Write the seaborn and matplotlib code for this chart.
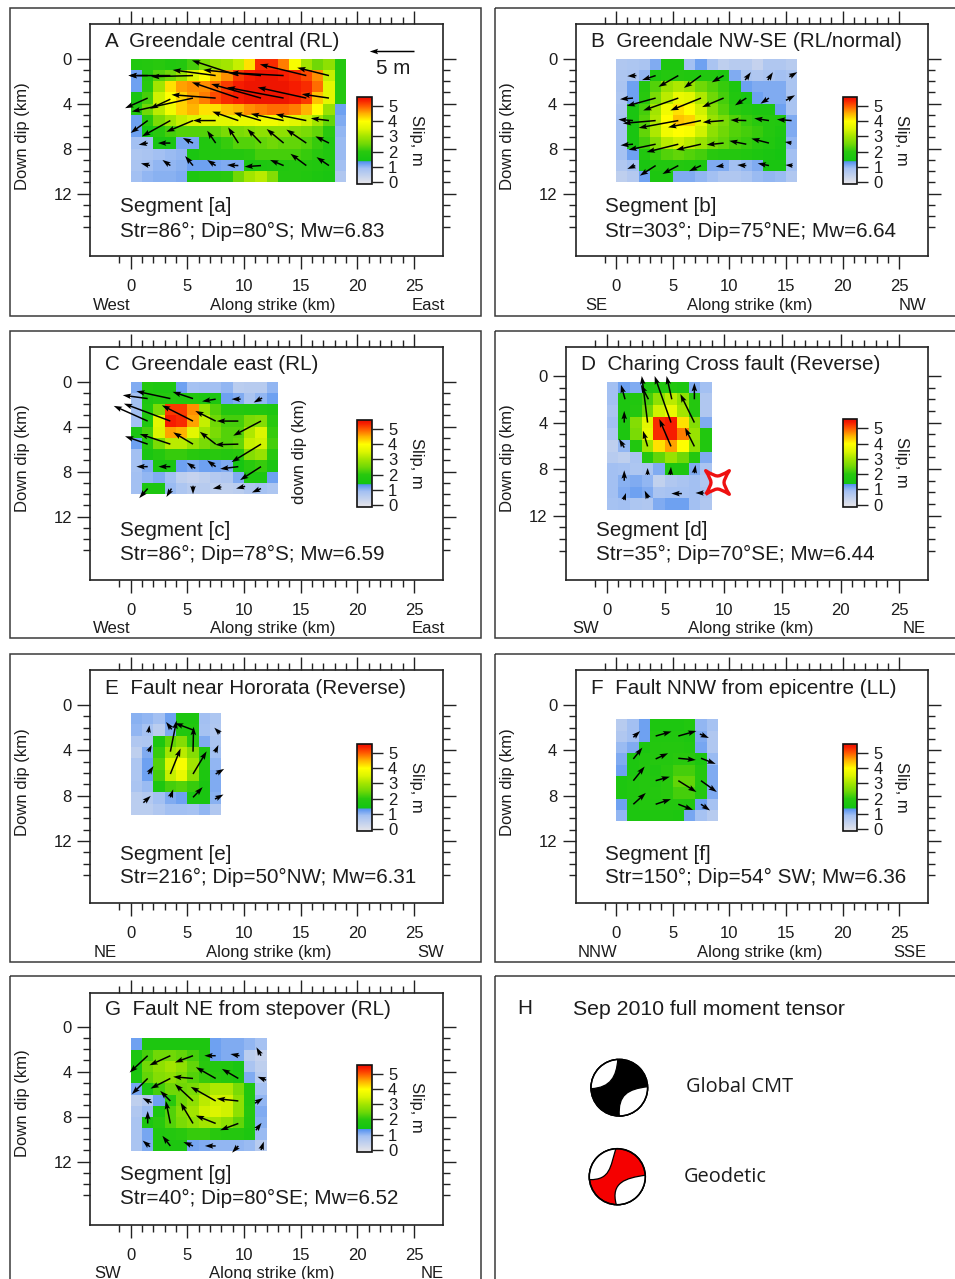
import numpy as np
import pandas as pd
import matplotlib
matplotlib.use("Agg")
import matplotlib.pyplot as plt
import seaborn as sns
from matplotlib.colors import LinearSegmentedColormap
from matplotlib.patches import Rectangle, PathPatch, Circle
from matplotlib.path import Path
from matplotlib.transforms import Affine2D

# Slip per 1 km x 1 km patch (metres)
slip_a = [
    [1.8, 1.9, 2.0, 1.8, 1.9, 2.2, 2.6, 2.9, 3.0, 3.3, 4.2, 5.3, 5.3, 4.8, 3.9, 3.0, 2.5, 2.8, 1.9],
    [1.2, 1.9, 2.3, 2.5, 2.9, 3.5, 4.0, 4.4, 4.7, 5.2, 5.4, 5.5, 5.5, 5.4, 5.3, 5.1, 4.7, 3.3, 1.9],
    [1.2, 2.0, 3.0, 4.2, 4.6, 4.7, 4.7, 4.9, 5.2, 5.4, 5.5, 5.5, 5.5, 5.5, 5.4, 5.3, 4.9, 3.6, 1.9],
    [1.6, 2.2, 3.4, 4.0, 4.3, 4.6, 4.8, 5.1, 5.3, 5.4, 5.5, 5.5, 5.5, 5.5, 5.4, 5.2, 4.4, 3.6, 1.9],
    [1.8, 2.5, 3.2, 3.8, 4.3, 4.5, 4.2, 4.2, 4.4, 4.5, 4.7, 4.8, 4.9, 4.9, 4.8, 4.5, 4.0, 2.9, 1.2],
    [1.2, 2.0, 2.6, 3.0, 3.3, 3.5, 3.6, 3.6, 3.6, 3.7, 3.7, 3.8, 3.8, 3.7, 3.6, 3.4, 3.0, 2.4, 1.1],
    [1.2, 1.5, 2.0, 2.2, 2.3, 2.3, 2.3, 2.4, 2.6, 2.6, 2.7, 2.8, 2.8, 2.8, 2.7, 2.6, 2.4, 2.0, 1.0],
    [0.9, 0.9, 1.6, 1.6, 1.15, 1.15, 1.8, 1.9, 2.1, 2.3, 2.3, 2.4, 2.5, 2.4, 2.4, 2.3, 2.1, 1.8, 0.95],
    [0.75, 0.8, 0.9, 0.95, 1.0, 1.6, 1.8, 1.85, 1.9, 1.9, 2.0, 2.2, 2.2, 2.2, 2.2, 2.1, 2.0, 1.8, 0.95],
    [0.8, 0.9, 1.0, 1.0, 1.05, 1.2, 1.2, 1.15, 1.1, 1.1, 1.6, 1.7, 1.75, 1.8, 1.9, 1.9, 1.8, 1.7, 0.9],
    [0.9, 1.0, 1.05, 1.05, 1.1, 1.7, 1.8, 1.9, 2.0, 2.5, 3.0, 3.2, 2.7, 1.9, 1.9, 1.8, 1.7, 1.6, 0.7],
]
slip_b = [
    [0.7, 0.75, 0.8, 1.1, 1.7, 1.7, 0.9, 1.2, 0.8, 0.5, 0.6, 0.6, 0.4, 0.7, 0.7, 0.6],
    [0.75, 0.8, 1.0, 1.7, 1.9, 1.9, 1.8, 1.8, 1.8, 1.7, 1.1, 0.8, 0.7, 0.8, 0.9, 0.8],
    [0.8, 1.2, 1.9, 2.3, 2.9, 3.1, 2.9, 2.5, 2.3, 2.1, 1.7, 1.2, 1.1, 1.1, 1.1, 0.8],
    [0.75, 1.2, 2.0, 2.6, 3.2, 3.7, 3.6, 3.1, 2.5, 2.2, 1.8, 1.6, 1.2, 1.1, 1.1, 0.8],
    [0.8, 1.6, 2.2, 3.0, 3.8, 4.2, 4.0, 3.4, 2.7, 2.3, 2.0, 1.8, 1.7, 1.7, 1.2, 0.8],
    [0.85, 1.6, 2.3, 3.1, 4.0, 4.4, 4.3, 3.6, 2.9, 2.6, 2.3, 2.1, 2.0, 1.9, 1.8, 1.1],
    [0.85, 1.6, 2.4, 3.1, 3.8, 4.0, 3.9, 3.4, 2.8, 2.5, 2.3, 2.2, 2.1, 1.9, 1.7, 1.1],
    [0.85, 1.6, 2.2, 2.7, 3.2, 3.4, 3.2, 2.9, 2.6, 2.4, 2.2, 2.1, 2.0, 1.8, 1.6, 1.0],
    [0.85, 1.2, 1.8, 2.1, 2.3, 2.4, 2.3, 2.2, 2.0, 1.9, 1.9, 1.8, 1.7, 1.6, 1.5, 0.9],
    [0.7, 0.9, 1.6, 1.8, 1.8, 1.9, 1.8, 1.7, 1.1, 1.1, 0.9, 1.0, 1.1, 1.6, 1.6, 0.9],
    [0.5, 0.65, 1.2, 1.7, 1.7, 1.1, 1.1, 1.0, 0.9, 0.7, 0.7, 0.8, 0.95, 1.0, 0.95, 0.7],
]
slip_c = [
    [1.1, 1.8, 1.7, 1.7, 1.2, 0.85, 0.9, 0.9, 1.0, 0.55, 0.6, 0.6, 1.0],
    [0.9, 1.7, 1.9, 1.9, 1.8, 1.8, 1.7, 1.7, 1.2, 1.1, 0.8, 1.0, 1.2],
    [0.9, 1.8, 2.6, 5.2, 5.2, 4.7, 2.9, 2.3, 1.9, 1.9, 1.8, 1.8, 1.7],
    [0.9, 1.8, 3.6, 5.4, 5.3, 4.6, 3.3, 2.5, 2.2, 2.2, 2.6, 2.7, 2.0],
    [1.6, 2.2, 3.5, 4.6, 4.5, 3.6, 3.0, 2.6, 2.3, 2.3, 3.1, 3.5, 2.1],
    [1.2, 1.9, 2.6, 3.2, 3.2, 2.9, 2.6, 2.4, 2.3, 2.4, 3.3, 3.4, 2.2],
    [0.9, 1.6, 1.9, 2.1, 2.1, 2.0, 1.9, 2.0, 1.9, 2.0, 2.7, 2.9, 2.0],
    [0.85, 1.1, 1.6, 1.6, 1.2, 1.1, 1.2, 1.2, 1.1, 1.5, 2.0, 2.1, 1.6],
    [0.9, 1.0, 1.1, 0.9, 0.5, 0.4, 0.5, 0.65, 0.7, 1.1, 1.7, 1.7, 1.2],
    [0.9, 1.7, 1.7, 0.95, 0.75, 0.6, 0.6, 0.5, 0.5, 0.55, 0.7, 0.85, 0.75],
]
slip_d = [
    [0.9, 1.2, 1.1, 1.7, 1.8, 1.8, 1.7, 1.1, 0.9],
    [0.9, 1.7, 1.8, 2.2, 2.8, 3.2, 2.8, 1.9, 0.7],
    [0.8, 1.7, 1.9, 2.5, 3.4, 3.7, 3.0, 1.9, 0.7],
    [0.9, 1.7, 2.7, 3.6, 5.3, 5.4, 4.2, 2.7, 1.1],
    [0.75, 1.7, 2.6, 3.7, 5.3, 5.4, 4.8, 2.9, 1.8],
    [0.5, 1.0, 1.8, 3.0, 4.2, 4.6, 4.0, 2.8, 1.8],
    [0.6, 0.5, 0.8, 1.9, 2.4, 2.9, 2.5, 1.9, 1.1],
    [0.9, 0.85, 0.75, 0.8, 1.1, 1.7, 1.7, 1.1, 0.8],
    [0.9, 1.05, 1.1, 1.0, 0.45, 0.7, 0.8, 0.9, 0.7],
    [0.9, 1.1, 1.2, 1.1, 0.8, 0.85, 0.85, 0.9, 0.8],
    [0.85, 0.9, 0.75, 0.7, 1.1, 1.2, 1.2, 0.9, 0.7],
]
slip_e = [
    [1.05, 1.0, 0.9, 1.2, 1.7, 1.7, 0.9, 0.75],
    [1.0, 0.85, 0.55, 1.1, 1.8, 1.8, 0.85, 0.7],
    [0.7, 0.75, 1.7, 2.4, 2.7, 2.0, 1.1, 0.8],
    [0.5, 1.1, 2.1, 3.0, 3.2, 2.7, 1.7, 0.9],
    [0.75, 1.2, 2.3, 3.5, 3.9, 3.0, 1.8, 1.0],
    [0.75, 1.2, 2.2, 3.3, 3.7, 2.8, 1.7, 1.1],
    [0.8, 0.95, 1.7, 2.2, 2.3, 2.1, 1.6, 1.1],
    [0.55, 0.65, 0.9, 1.1, 1.2, 1.6, 1.6, 1.05],
    [0.55, 0.55, 0.7, 0.9, 0.9, 0.85, 1.0, 0.7],
]
slip_f = [
    [0.6, 0.9, 1.2, 1.7, 1.7, 1.7, 1.8, 1.0, 0.85],
    [0.7, 0.9, 1.2, 1.8, 1.8, 1.8, 1.7, 1.1, 0.7],
    [0.95, 1.1, 1.65, 1.85, 1.9, 1.9, 1.8, 1.15, 0.7],
    [1.1, 1.7, 1.8, 1.9, 1.9, 2.0, 2.0, 1.7, 0.95],
    [1.2, 1.7, 1.85, 1.75, 2.0, 2.2, 2.2, 1.9, 1.1],
    [1.7, 1.8, 1.9, 1.8, 2.0, 2.4, 2.4, 1.9, 1.1],
    [1.7, 1.8, 1.9, 1.9, 2.0, 2.2, 2.2, 1.85, 1.1],
    [1.2, 1.75, 1.85, 1.85, 1.9, 1.9, 1.8, 1.2, 0.85],
    [1.0, 1.7, 1.7, 1.75, 1.75, 1.7, 1.15, 0.85, 0.6],
]
slip_g = [
    [1.2, 1.7, 1.7, 1.7, 1.7, 1.7, 1.7, 1.2, 1.1, 1.1, 1.0, 0.85],
    [1.65, 2.2, 2.5, 2.5, 2.4, 2.2, 1.9, 1.2, 1.1, 1.1, 0.55, 0.4],
    [1.65, 2.5, 2.8, 3.0, 2.8, 2.4, 2.0, 1.9, 1.8, 1.6, 0.8, 0.5],
    [1.65, 2.4, 2.7, 2.8, 2.6, 2.3, 2.1, 2.0, 1.9, 1.7, 1.1, 0.6],
    [1.15, 1.6, 2.2, 2.5, 2.5, 2.6, 2.9, 3.1, 3.1, 2.6, 1.8, 0.85],
    [0.5, 0.7, 1.2, 2.0, 2.5, 2.8, 3.2, 3.4, 3.4, 2.8, 1.8, 1.0],
    [0.7, 0.95, 1.7, 2.3, 2.7, 3.0, 3.4, 3.5, 3.4, 2.8, 1.9, 1.1],
    [0.8, 1.7, 2.0, 2.3, 2.6, 2.8, 3.0, 3.0, 2.8, 2.4, 1.8, 1.05],
    [0.8, 1.15, 1.8, 1.9, 2.0, 2.1, 2.1, 2.0, 1.9, 1.9, 1.7, 0.95],
    [0.8, 1.1, 1.7, 1.7, 1.7, 1.15, 1.1, 1.0, 1.0, 1.0, 0.95, 0.6],
]

# Slip vectors: along strike, down dip, strike part, dip part (km on the plot)
arrows_a = [
    (17.5, 1.5, -2.8, -0.7), (15.5, 1.5, -4.1, -1.0), (13.5, 1.5, -4.7, -0.25), (11.5, 1.5, -5.1, -0.5),
    (9.5, 1.5, -4.1, -1.35), (7.5, 1.5, -3.8, -0.5), (5.5, 1.5, -3.7, 0.1), (3.5, 1.5, -3.7, 0.0), (1.5, 1.5, -1.7, 0.0),
    (17.5, 3.5, -2.4, -0.35), (15.5, 3.5, -4.3, -0.95), (13.5, 3.5, -5.0, -0.95), (11.5, 3.5, -4.4, -1.25),
    (9.5, 3.5, -4.1, -1.4), (7.5, 3.5, -3.9, -0.3), (5.5, 3.5, -5.4, 1.2), (3.5, 3.6, -1.8, 0.85), (1.5, 3.5, -2.0, 0.9),
    (17.5, 5.5, -1.6, -0.2), (15.5, 5.5, -2.7, -0.55), (13.5, 5.5, -2.9, -0.6), (11.5, 5.5, -2.4, -0.7),
    (9.5, 5.5, -2.3, -0.8), (7.5, 5.5, -2.0, 0.0), (5.5, 5.5, -2.35, 1.0), (3.5, 5.5, -2.5, 1.4), (1.5, 5.5, -1.5, 1.1),
    (17.5, 7.5, -1.2, -0.6), (15.5, 7.5, -1.75, -1.2), (13.5, 7.5, -1.5, -1.25), (11.5, 7.5, -1.2, -1.25),
    (9.5, 7.5, -0.9, -1.4), (7.5, 7.5, -0.75, -1.1), (5.5, 7.5, -0.9, -0.45), (3.5, 7.5, -1.1, 0.0), (1.5, 7.5, -0.8, 0.15),
    (17.5, 9.5, -1.1, -0.75), (15.5, 9.5, -1.4, -1.05), (13.5, 9.5, -1.2, -0.5), (11.5, 9.5, -1.45, 0.1),
    (9.5, 9.5, -1.0, -0.05), (7.5, 9.5, -0.75, -0.5), (5.5, 9.5, -0.7, -0.85), (3.5, 9.5, -0.7, -0.5), (1.7, 9.5, -0.8, -0.2),
]
arrows_b = [
    (1.8, 1.5, -0.8, 0.05), (3.5, 1.5, -1.2, 0.4), (5.5, 1.5, -1.75, 1.0), (7.5, 1.5, -1.5, 1.1), (9.5, 1.5, -1.05, 0.6),
    (11.4, 1.9, 0.5, -0.7), (13.4, 1.9, 0.45, -0.7), (15.3, 1.6, 0.7, -0.4),
    (1.5, 3.5, -1.15, 0.1), (3.5, 3.5, -2.55, 0.7), (5.5, 3.5, -3.1, 1.1), (7.5, 3.5, -2.7, 1.1), (9.5, 3.5, -1.9, 0.8),
    (11.5, 3.5, -1.0, 0.65), (13.5, 3.5, -0.75, 0.5), (15.0, 3.7, 0.8, -0.45),
    (1.5, 5.5, -1.3, -0.1), (3.5, 5.5, -2.9, 0.25), (5.5, 5.5, -3.5, 0.65), (7.5, 5.5, -2.9, 0.6), (9.5, 5.5, -1.85, 0.15),
    (11.5, 5.5, -1.4, -0.05), (13.5, 5.5, -1.3, -0.2), (15.5, 5.5, -1.3, -0.1),
    (1.5, 7.6, -1.1, 0.1), (3.5, 7.6, -2.4, 0.5), (5.5, 7.6, -2.8, 0.7), (7.5, 7.6, -2.2, 0.5), (9.5, 7.5, -1.5, 0.15),
    (11.5, 7.6, -1.5, -0.3), (13.5, 7.5, -1.55, -0.4), (15.5, 7.5, -0.6, -0.1),
    (1.7, 9.5, -0.7, 0.3), (3.5, 9.5, -1.4, 0.9), (5.5, 9.5, -1.4, 0.75), (7.5, 9.5, -1.05, 0.5), (9.5, 9.5, -0.7, 0.1),
    (11.5, 9.5, -0.8, -0.05), (13.5, 9.5, -1.0, -0.2), (15.6, 9.5, -0.65, -0.05),
]
arrows_c = [
    (1.5, 1.5, -2.2, -0.3), (3.5, 1.5, -3.0, -0.65), (5.5, 1.5, -1.8, -0.6), (7.5, 1.55, -1.2, 0.2), (9.7, 1.55, -0.8, 0.0), (11.6, 1.45, -0.75, 0.4),
    (1.5, 3.5, -3.0, -1.35), (3.5, 3.5, -4.1, -1.55), (5.5, 3.5, -2.75, -1.4), (7.5, 3.5, -1.8, -0.9), (9.5, 3.5, -1.9, 0.0), (11.5, 3.5, -2.45, 1.3),
    (1.5, 5.55, -2.0, -0.7), (3.5, 5.55, -2.7, -0.9), (5.5, 5.55, -1.75, -1.05), (7.5, 5.55, -1.4, -1.1), (9.5, 5.55, -2.05, 0.05), (11.5, 5.55, -2.6, 1.6),
    (1.5, 7.55, -1.0, 0.0), (3.5, 7.55, -1.05, 0.0), (5.7, 7.7, -0.75, -0.5), (7.5, 7.55, -0.75, -0.55), (9.5, 7.55, -1.6, 0.2), (11.5, 7.55, -1.85, 1.2),
    (1.5, 9.5, -0.75, 0.85), (3.6, 9.5, -0.45, 0.75), (5.5, 9.25, 0.0, 0.75), (8.0, 9.35, -0.75, 0.15), (10.1, 9.3, -0.8, 0.2), (11.5, 9.5, -0.8, 0.35),
]
arrows_d = [
    (1.57, 2.0, -0.35, -1.25), (3.57, 2.0, -0.65, -1.25), (5.57, 2.0, -0.45, -2.0), (7.5, 2.0, 0.0, -1.4),
    (1.5, 4.0, 0.0, -1.0), (3.5, 4.0, -0.5, -4.0), (5.5, 4.0, -1.4, -4.0), (7.5, 4.0, -1.2, -2.45),
    (1.5, 6.15, -0.45, -0.75), (3.5, 6.05, -0.4, -1.35), (5.5, 6.05, -1.0, -2.35), (7.5, 6.05, -0.8, -1.6),
    (1.5, 9.0, 0.0, -0.9), (3.5, 8.5, 0.0, -0.6), (5.45, 8.5, 0.05, -0.7), (7.5, 8.35, 0.1, -0.7),
    (1.45, 10.65, 0.2, -0.6), (3.55, 10.5, -0.3, -0.65), (6.43, 10.1, -0.9, 0.0), (8.3, 10.05, -0.7, 0.0),
]
arrows_e = [
    (1.56, 2.44, 0.1, -0.65), (3.62, 2.15, -0.5, -0.65), (3.5, 4.12, 0.55, -2.75), (5.5, 4.12, 0.05, -2.2),
    (5.5, 2.2, -1.6, -0.6), (7.88, 2.5, -0.5, -0.5), (1.56, 4.12, 0.3, -0.6), (3.5, 6.09, 0.9, -2.25),
    (5.5, 6.09, 1.2, -2.0), (7.44, 4.18, 0.3, -0.65), (1.56, 6.09, 0.45, -0.7), (7.5, 6.09, 0.75, -0.45),
    (1.12, 8.62, 0.65, -0.6), (3.5, 8.15, 0.25, -0.7), (5.5, 8.15, 0.85, -0.9), (7.44, 8.3, 0.75, -0.4),
]
arrows_f = [
    (1.53, 2.85, 0.6, -0.55), (3.5, 2.74, 1.4, -0.4), (5.5, 2.74, 1.6, -0.45), (7.4, 2.56, 0.8, 0.35),
    (1.53, 4.76, 0.8, -1.0), (3.5, 4.76, 1.1, -0.5), (5.5, 4.7, 1.55, 0.15), (7.5, 4.7, 1.3, 0.5),
    (1.53, 6.68, 1.0, -1.25), (3.5, 6.68, 1.25, -0.35), (5.5, 6.68, 1.6, 1.0), (7.5, 6.68, 1.4, 1.0),
    (1.53, 8.76, 1.1, -1.0), (3.5, 8.76, 1.35, -0.45), (5.5, 8.76, 1.3, 0.5), (7.5, 8.76, 0.8, 0.55),
]
arrows_g = [
    (1.5, 2.58, -1.6, 1.5), (3.5, 2.58, -1.85, 0.85), (5.5, 2.58, -1.6, 0.6), (7.5, 2.58, -1.0, 0.0), (9.6, 2.58, -0.8, -0.15), (11.5, 2.58, -0.4, -0.75),
    (1.5, 4.6, -1.4, 1.4), (3.5, 4.6, -1.75, 0.9), (5.5, 4.6, -1.75, -0.15), (7.5, 4.6, -1.75, -1.0), (9.5, 4.6, -1.45, -0.85), (11.95, 4.75, -0.75, -0.3),
    (1.85, 6.75, -0.8, -0.4), (3.5, 6.6, -0.9, -0.9), (5.5, 6.6, -1.6, -1.5), (7.5, 6.6, -2.2, -1.25), (9.5, 6.6, -1.9, -0.2), (10.97, 6.8, 0.7, -0.45),
    (1.5, 8.6, 0.0, -1.1), (3.5, 8.6, -0.4, -2.0), (5.5, 8.6, -1.1, -1.85), (7.5, 8.6, -1.75, -0.7), (9.5, 8.6, -1.6, 0.6), (11.05, 9.2, 0.5, -0.65),
    (1.7, 10.67, -0.65, -0.55), (3.5, 10.6, -0.7, -0.9), (5.5, 10.6, -0.85, -0.35), (7.5, 10.6, -0.95, 0.0), (9.5, 10.6, -0.55, 0.6), (11.5, 10.96, 0.25, -0.75),
]
scale_arrow = [(25.0, -0.65, -3.95, 0.0)]  # the 5 m key in panel A

depth_ticks = [0, 4, 8, 12]
strike_ticks = [0, 5, 10, 15, 20, 25]
slip_ticks = [0, 1, 2, 3, 4, 5]

# slip value -> colour of the scale
slip_stops = [-0.13, 0.0, 0.9, 1.34, 1.38, 2.0, 2.5, 3.0, 3.5, 4.0, 4.5, 5.0, 5.4, 5.6]
slip_colors = ["#e2e2e6", "#dfe1ea", "#a3c0f2", "#5592f0", "#12c412", "#28c80e", "#70d806", "#a2e500",
               "#dcf500", "#ffff00", "#ffb400", "#ff5a00", "#f61c00", "#e60f00"]

VMIN, VMAX = slip_stops[0], slip_stops[-1]
cmap = LinearSegmentedColormap.from_list(
    "slip", [((v - VMIN) / (VMAX - VMIN), c) for v, c in zip(slip_stops, slip_colors)], N=1024)

W, H = 955, 1279
TXT = "#1c1c1c"
BIG, SMALL = 14.9, 12.0
sns.set_style("ticks")
plt.rcParams['font.family'] = ['Liberation Sans', 'DejaVu Sans']

fig = plt.figure(figsize=(W / 100, H / 100), dpi=100)


def px_axes(x0, y0, x1, y1, **kw):
    return fig.add_axes([x0 / W, 1 - y1 / H, (x1 - x0) / W, (y1 - y0) / H], **kw)


bg = px_axes(0, 0, W, H)
bg.set_xlim(0, W)
bg.set_ylim(H, 0)
bg.axis("off")
bg.set_zorder(5)
bg.patch.set_alpha(0)

# pixel layout of each panel
left_col = dict(out=(10, 481), ax=(90.3, 443.3), x0=130.7, sx=11.33, title_x=105, seg_x=120, dd_x=22,
                cb=(357, 372))
right_col = dict(out=(495, 962), ax=(575.7, 928.3), x0=616, sx=11.33, title_x=590.7, seg_x=605, dd_x=507,
                 cb=(842.7, 857.3))

panels = [
    dict(col=left_col, out_y=(8, 316), ax_y=(23.7, 256.3), y0=58.7, sy=11.25, slip=slip_a, arrows=arrows_a, top=0.0,
         title="A  Greendale central (RL)", seg="Segment [a]", info="Str=86°; Dip=80°S; Mw=6.83",
         seg_y=205.7, info_y=230, title_y=40, bot_y=305, ends=("West", 92.7, "East", 445), along=272.7,
         dd_y=136, cb_y=(97, 184)),
    dict(col=right_col, out_y=(8, 316), ax_y=(23.7, 256.3), y0=58.7, sy=11.25, slip=slip_b, arrows=arrows_b, top=0.0,
         title="B  Greendale NW-SE (RL/normal)", seg="Segment [b]", info="Str=303°; Dip=75°NE; Mw=6.64",
         seg_y=205.7, info_y=230, title_y=40, bot_y=305, ends=("SE", 585, "NW", 926), along=749.3,
         dd_y=136, cb_y=(97, 184)),
    dict(col=left_col, out_y=(330.7, 638), ax_y=(347.3, 580.3), y0=381.7, sy=11.25, slip=slip_c, arrows=arrows_c, top=0.0,
         title="C  Greendale east (RL)", seg="Segment [c]", info="Str=86°; Dip=78°S; Mw=6.59",
         seg_y=529, info_y=553.3, title_y=363.3, bot_y=628.3, ends=("West", 92.7, "East", 445), along=272.7,
         dd_y=458.3, cb_y=(420, 507)),
    dict(col=dict(right_col, ax=(566, 927.7), x0=606.7, sx=11.69, title_x=580.7, seg_x=595.7), out_y=(330.7, 638),
         ax_y=(347.3, 580), y0=376, sy=11.64, slip=slip_d, arrows=arrows_d, top=0.5,
         title="D  Charing Cross fault (Reverse)", seg="Segment [d]", info="Str=35°; Dip=70°SE; Mw=6.44",
         seg_y=529, info_y=553.3, title_y=363.3, bot_y=628.3, ends=("SW", 572, "NE", 926), along=750.7,
         dd_y=458.3, cb_y=(419.3, 506.7)),
    dict(col=left_col, out_y=(654, 962), ax_y=(670.3, 903.3), y0=705, sy=11.33, slip=slip_e, arrows=arrows_e, top=0.7,
         title="E  Fault near Hororata (Reverse)", seg="Segment [e]", info="Str=216°; Dip=50°NW; Mw=6.31",
         seg_y=853.3, info_y=876.7, title_y=686.7, bot_y=952.3, ends=("NE", 94, "SW", 444.3), along=268.3,
         dd_y=782.3, cb_y=(743.7, 831.3)),
    dict(col=right_col, out_y=(654, 962), ax_y=(670.3, 903.3), y0=705, sy=11.33, slip=slip_f, arrows=arrows_f, top=1.26,
         title="F  Fault NNW from epicentre (LL)", seg="Segment [f]", info="Str=150°; Dip=54° SW; Mw=6.36",
         seg_y=853.3, info_y=876.7, title_y=686.7, bot_y=952.3, ends=("NNW", 577.3, "SSE", 926), along=759.3,
         dd_y=782.3, cb_y=(743.7, 831.3)),
    dict(col=left_col, out_y=(975.7, 1295), ax_y=(993, 1225), y0=1026.7, sy=11.25, slip=slip_g, arrows=arrows_g, top=1.04,
         title="G  Fault NE from stepover (RL)", seg="Segment [g]", info="Str=40°; Dip=80°SE; Mw=6.52",
         seg_y=1173.3, info_y=1197.7, title_y=1008.3, bot_y=1272.7, ends=("SW", 94, "NE", 443.3), along=271.7,
         dd_y=1103.3, cb_y=(1065, 1151.7)),
]

ARROW_KW = dict(angles="xy", scale_units="xy", scale=1, units="dots", width=1.5, headwidth=3.7,
                headlength=5.6, headaxislength=4.8, minlength=0.5, color="black", zorder=4)


def draw_panel(p):
    col = p["col"]
    (ax_l, ax_r), (ax_t, ax_b) = col["ax"], p["ax_y"]
    ax = px_axes(ax_l, ax_t, ax_r, ax_b)
    cax = px_axes(col["cb"][0], p["cb_y"][0], col["cb"][1], p["cb_y"][1])

    grid = pd.DataFrame(p["slip"])
    sns.heatmap(grid, ax=ax, cbar_ax=cax, cmap=cmap, vmin=VMIN, vmax=VMAX,
                xticklabels=False, yticklabels=False, linewidths=0)
    mesh = ax.collections[0]
    mesh.set_transform(Affine2D().translate(0, p["top"]) + ax.transData)

    ax.set_xlim((ax_l - col["x0"]) / col["sx"], (ax_r - col["x0"]) / col["sx"])
    ax.set_ylim((ax_b - p["y0"]) / p["sy"], (ax_t - p["y0"]) / p["sy"])
    ax.set_xticks(strike_ticks)
    ax.set_xticklabels([str(t) for t in strike_ticks], fontsize=SMALL, color=TXT)
    ax.set_yticks(depth_ticks)
    ax.set_yticklabels([str(t) for t in depth_ticks], fontsize=SMALL, color=TXT)
    ax.set_xticks(range(-1, 25), minor=True)
    ax.set_yticks(range(0, 16), minor=True)
    ax.tick_params(which="major", top=True, right=True, bottom=True, left=True, direction="out", length=9.2, width=1.0, color="#222222")
    ax.tick_params(which="minor", top=True, right=True, bottom=True, left=True, direction="out", length=5, width=1.0, color="#222222")
    ax.tick_params(axis="x", which="major", pad=7.4)
    ax.tick_params(axis="y", which="major", pad=4)
    for s in ax.spines.values():
        s.set_visible(True)
        s.set_linewidth(1.2)
        s.set_color("#222222")

    arr = np.array(p["arrows"]).T
    ax.quiver(arr[0], arr[1], arr[2], arr[3], **ARROW_KW)

    cb = mesh.colorbar
    cb.set_ticks(slip_ticks)
    cb.ax.tick_params(length=8, width=1.0, pad=3.5, labelsize=SMALL, color="#222222", labelcolor=TXT)
    cb.outline.set_visible(True)
    cb.outline.set_linewidth(1.2)
    cb.outline.set_edgecolor("#111111")

    # frame and the text around the panel
    bg.add_patch(Rectangle((col["out"][0], p["out_y"][0]), col["out"][1] - col["out"][0], p["out_y"][1] - p["out_y"][0],
                           fill=False, ec="#3a3a3a", lw=1.1))
    bg.text(col["title_x"], p["title_y"] + 1.5, p["title"], fontsize=BIG, va="center", ha="left", color=TXT)
    bg.text(col["seg_x"], p["seg_y"] + 1, p["seg"], fontsize=BIG, va="center", ha="left", color=TXT)
    bg.text(col["seg_x"], p["info_y"] + 1, p["info"], fontsize=BIG, va="center", ha="left", color=TXT)
    bg.text(col["dd_x"], p["dd_y"], "Down dip (km)", fontsize=SMALL, rotation=90, va="center", ha="center", color=TXT)
    bg.text(col["cb"][1] + 44, sum(p["cb_y"]) / 2 - 0.5, "Slip, m", fontsize=SMALL, rotation=270, va="center", ha="center", color=TXT)
    left_txt, left_x, right_txt, right_x = p["ends"]
    bg.text(left_x, p["bot_y"] + 0.5, left_txt, fontsize=SMALL, va="center", ha="left", color=TXT)
    bg.text(p["along"], p["bot_y"] + 0.5, "Along strike (km)", fontsize=SMALL, va="center", ha="center", color=TXT)
    bg.text(right_x, p["bot_y"] + 0.5, right_txt, fontsize=SMALL, va="center", ha="right", color=TXT)
    return ax


axes = [draw_panel(p) for p in panels]

# panel A key
key = np.array(scale_arrow).T
axes[0].quiver(key[0], key[1], key[2], key[3], **ARROW_KW)
bg.text(393, 68.5, "5 m", fontsize=BIG, va="center", ha="center", color=TXT)

# panel C extra label
bg.text(299.5, 451, "down dip (km)", fontsize=SMALL, rotation=90, va="center", ha="center", color=TXT)

# panel D epicentre star
star = Path([(-1, -1), (-0.3, -0.55), (0, -0.55), (0.3, -0.55), (1, -1), (0.55, -0.3), (0.55, 0), (0.55, 0.3), (1, 1),
             (0.3, 0.55), (0, 0.55), (-0.3, 0.55), (-1, 1), (-0.55, 0.3), (-0.55, 0), (-0.55, -0.3), (-1, -1)],
            [Path.MOVETO] + [Path.CURVE3] * 16)
axes[3].scatter([9.43], [9.08], marker=star, s=290, facecolors="white", edgecolors="#ee1111", linewidths=2.4, zorder=5)

# panel H
bg.add_patch(Rectangle((495, 975.7), 467, 320, fill=False, ec="#3a3a3a", lw=1.1))
bg.text(517.5, 1009, "H", fontsize=BIG, va="center", ha="left", color=TXT)
bg.text(573.3, 1009.5, "Sep 2010 full moment tensor", fontsize=15.3, va="center", ha="left", color=TXT)
for txt, tx, ty in [("Global CMT", 685.7, 1087.5), ("Geodetic", 684, 1177)]:
    bg.text(tx, ty, txt, fontsize=14.4, family=["Open Sans", "DejaVu Sans"], va="center", ha="left", color=TXT)


def lobe(cx, cy, r, a0, a1, ctrl):
    # arc along the circle from a0 to a1 (degrees, y down), back to a0 with a cubic curve
    t = np.radians(np.linspace(a0, a1, 40))
    arc = np.column_stack([np.cos(t), np.sin(t)])
    verts = np.vstack([arc, ctrl, arc[:1]]) * r + [cx, cy]
    codes = [Path.MOVETO] + [Path.LINETO] * 39 + [Path.CURVE4] * 3
    return PathPatch(Path(verts, codes), fc="white", ec="black", lw=0.9, zorder=3)


def beachball(cx, cy, r, color, nw, se):
    bg.add_patch(Circle((cx, cy), r, fc=color, ec="black", lw=1.1, zorder=2))
    bg.add_patch(lobe(cx, cy, r, *nw))
    bg.add_patch(lobe(cx, cy, r, *se))
    bg.add_patch(Circle((cx, cy), r, fill=False, ec="black", lw=1.1, zorder=4))


beachball(619.3, 1087.7, 28.3, "black",
          (178, 267, [(-0.1, -0.4), (-0.3, 0.0)]),
          (-2, 90, [(-0.05, 0.25), (0.3, 0.05)]))
beachball(617.3, 1176.7, 28, "#f50000",
          (174, 267, [(-0.25, -0.35), (-0.25, 0.12)]),
          (-3, 92, [(-0.25, 0.2), (0.3, 0.05)]))

plt.savefig("out.png", dpi=100)
plt.close()
